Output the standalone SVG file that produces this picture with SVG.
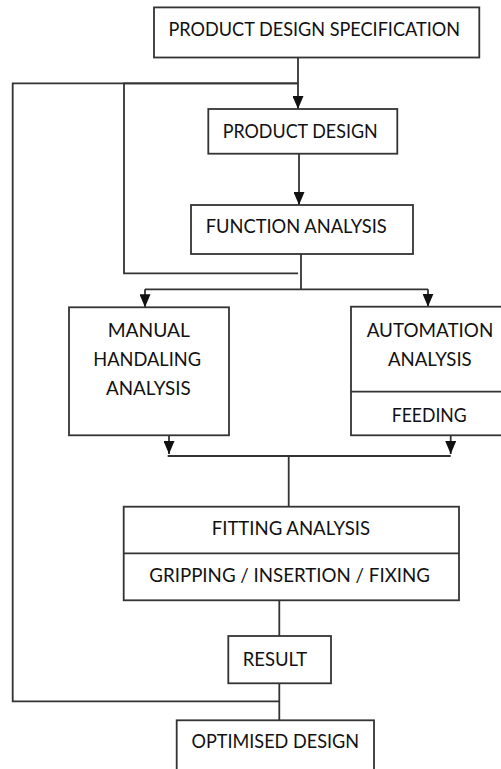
<svg xmlns="http://www.w3.org/2000/svg" width="501" height="769" viewBox="0 0 501 769">
<defs>
<style>
.box{fill:#fff;stroke:#333;stroke-width:1.8}
.div{stroke:#333;stroke-width:1.8}
.ln{fill:none;stroke:#333;stroke-width:1.8}
text{font-family:"Lato","Open Sans","Liberation Sans",sans-serif;font-size:18.5px;fill:#111}
</style>
<marker id="arr" markerUnits="userSpaceOnUse" markerWidth="13" markerHeight="11" viewBox="0 0 13 11" refX="13" refY="5.5" orient="auto">
<path d="M0,0 L13,5.5 L0,11 z" fill="#111"/>
</marker>
</defs>
<rect width="501" height="769" fill="#fff"/>
<g id="connectors">
<line class="ln" x1="298" y1="57.5" x2="298" y2="109" marker-end="url(#arr)"/>
<polyline class="ln" points="298,83.3 12.7,83.3 12.7,701.3 279.3,701.3"/>
<polyline class="ln" points="298,83.3 124,83.3 124,273.3 298,273.3"/>
<line class="ln" x1="299" y1="153.7" x2="299" y2="205" marker-end="url(#arr)"/>
<line class="ln" x1="301" y1="254" x2="301" y2="289.3"/>
<line class="ln" x1="145" y1="289.3" x2="428" y2="289.3"/>
<line class="ln" x1="145" y1="289.3" x2="145" y2="307.3" marker-end="url(#arr)"/>
<line class="ln" x1="428" y1="289.3" x2="428" y2="306.7" marker-end="url(#arr)"/>
<line class="ln" x1="169" y1="435.3" x2="169" y2="454" marker-end="url(#arr)"/>
<line class="ln" x1="450.7" y1="435.3" x2="450.7" y2="454" marker-end="url(#arr)"/>
<line class="ln" x1="167.7" y1="456" x2="450.7" y2="456"/>
<line class="ln" x1="288.7" y1="456" x2="288.7" y2="506.7"/>
<line class="ln" x1="279.3" y1="600.3" x2="279.3" y2="636"/>
<line class="ln" x1="279.3" y1="683.3" x2="279.3" y2="720.3"/>
</g>
<g id="pds">
<rect class="box" x="154" y="7.4" width="325.3" height="50.1"/>
<text x="168.5" y="35.7" textLength="291.5" lengthAdjust="spacingAndGlyphs">PRODUCT DESIGN SPECIFICATION</text>
</g>
<g id="product-design">
<rect class="box" x="208.3" y="109" width="189" height="44.7"/>
<text x="222.7" y="137.7" textLength="155" lengthAdjust="spacingAndGlyphs">PRODUCT DESIGN</text>
</g>
<g id="function-analysis">
<rect class="box" x="191" y="205" width="222" height="49"/>
<text x="205.7" y="233.3" textLength="181" lengthAdjust="spacingAndGlyphs">FUNCTION ANALYSIS</text>
</g>
<g id="manual-handling">
<rect class="box" x="69" y="307.3" width="160" height="128"/>
<text x="107.7" y="337.3" textLength="82.3" lengthAdjust="spacingAndGlyphs">MANUAL</text>
<text x="93.3" y="366" textLength="107.7" lengthAdjust="spacingAndGlyphs">HANDALING</text>
<text x="106" y="395" textLength="84.7" lengthAdjust="spacingAndGlyphs">ANALYSIS</text>
</g>
<g id="automation">
<rect class="box" x="351" y="306.7" width="155" height="128.6"/>
<line class="div" x1="351" y1="391.7" x2="503" y2="391.7"/>
<text x="366.7" y="336.7" textLength="126.6" lengthAdjust="spacingAndGlyphs">AUTOMATION</text>
<text x="388" y="366" textLength="83.7" lengthAdjust="spacingAndGlyphs">ANALYSIS</text>
<text x="391.7" y="421.7" textLength="75" lengthAdjust="spacingAndGlyphs">FEEDING</text>
</g>
<g id="fitting">
<rect class="box" x="123.7" y="506.7" width="335.3" height="93.6"/>
<line class="div" x1="123.7" y1="553.3" x2="459" y2="553.3"/>
<text x="211.7" y="535" textLength="158.3" lengthAdjust="spacingAndGlyphs">FITTING ANALYSIS</text>
<text x="149.3" y="581.7" textLength="280.7" lengthAdjust="spacingAndGlyphs">GRIPPING / INSERTION / FIXING</text>
</g>
<g id="result">
<rect class="box" x="228.3" y="636" width="102.7" height="47.3"/>
<text x="242.7" y="665.7" textLength="64.6" lengthAdjust="spacingAndGlyphs">RESULT</text>
</g>
<g id="optimised-design">
<rect class="box" x="176.7" y="720.3" width="197.3" height="52"/>
<text x="191.5" y="748.3" textLength="167.5" lengthAdjust="spacingAndGlyphs">OPTIMISED DESIGN</text>
</g>
</svg>
